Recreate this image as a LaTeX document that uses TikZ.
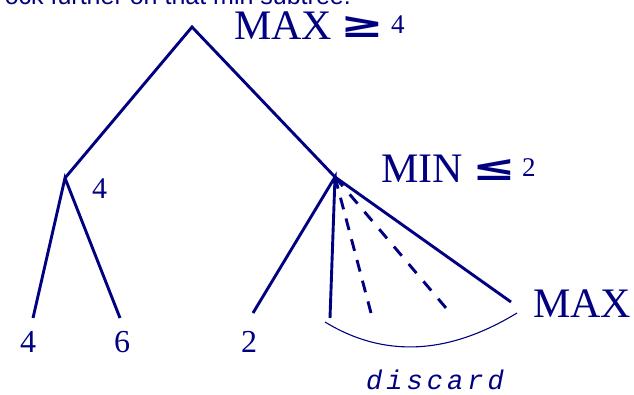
\documentclass[tikz,border=0pt]{standalone}
\usepackage{fontspec}
\setmainfont{Liberation Serif}
\newfontfamily\sansf{Liberation Sans}
\newfontfamily\monof{Liberation Mono}
\newfontfamily\symf{DejaVu Sans}
\definecolor{navy}{RGB}{0,0,128}
\begin{document}
\begin{tikzpicture}[x=1pt,y=-1pt,
  edge/.style={navy, line width=2.9pt, line join=miter},
  dashedge/.style={edge, dash pattern=on 12pt off #1},
  pt/.style={inner sep=0pt, minimum size=0pt},
  lbl/.style={text=navy, inner sep=0pt, anchor=base west},
  big/.style={font=\fontsize{42}{42}\selectfont},
  rel/.style={lbl, font=\symf\bfseries\fontsize{36}{36}\selectfont},
]
\clip (0,0) rectangle (634,394);
% tree points
\node[pt] (root) at (192,27) {};
\node[pt] (L) at (65,178) {};
\node[pt] (R) at (335,177) {};
\node[pt] (l1) at (33,318) {};
\node[pt] (l2) at (120,318) {};
\node[pt] (r1) at (253,313) {};
\node[pt] (r2) at (330,318) {};
\node[pt] (r3) at (371,313) {};
\node[pt] (r4) at (446,308) {};
\node[pt] (r5) at (511,302) {};
\coordinate (a1) at (325,322);
\coordinate (a2) at (517,313);
% edges
\draw[edge] (L.center) -- (root.center) -- (R.center);
\draw[edge] (l1.center) -- (L.center) -- (l2.center);
\draw[edge] (r1.center) -- (R.center) -- (r2.center);
\draw[edge] (R.center) -- (r5.center);
\draw[dashedge=9.45pt] (R.center) -- (r3.center);
\draw[dashedge=10.8pt] (R.center) -- (r4.center);
\draw[navy, line width=1.1pt] (a1) .. controls (384,358) and (448,355) .. (a2);
% labels
\node[lbl, anchor=base east, font=\sansf\fontsize{25}{25}\selectfont] (cap) at (351,4) {ock further on that min subtree.};
\node[lbl, big] (maxt) at (234,39) {MAX};
\node[rel] (geq) at (340,37) {\scalebox{1.45}[1]{≥}};
\node[lbl, font=\fontsize{27}{27}\selectfont] (four) at (391,33) {4};
\node[lbl, big] (mint) at (381,182) {MIN};
\node[rel] (leq) at (472,180) {\scalebox{1.45}[1]{≤}};
\node[lbl, font=\fontsize{27}{27}\selectfont] (two) at (522,176) {2};
\node[lbl, big] (maxb) at (533,317) {MAX};
\node[lbl, font=\fontsize{30}{30}\selectfont] (v4) at (92,198) {4};
\node[lbl, font=\fontsize{32}{32}\selectfont] (n4) at (20,352) {4};
\node[lbl, font=\fontsize{32}{32}\selectfont] (n6) at (114,352) {6};
\node[lbl, font=\fontsize{32}{32}\selectfont] (n2) at (241,352) {2};
\node[lbl, font=\monof\itshape\fontsize{27}{27}\selectfont\addfontfeature{LetterSpace=15}] (disc) at (366,389) {discard};
\end{tikzpicture}
\end{document}
